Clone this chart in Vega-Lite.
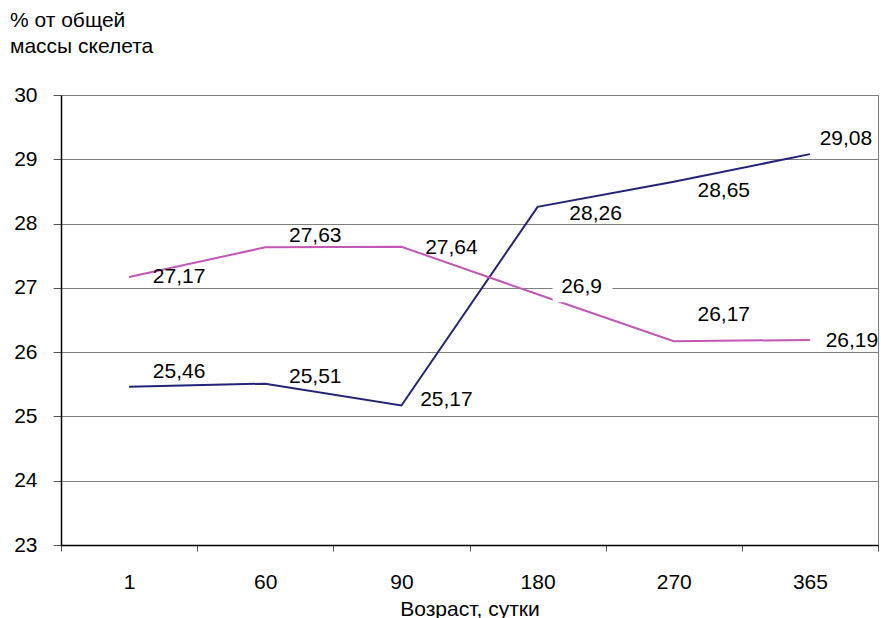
{
  "$schema": "https://vega.github.io/schema/vega-lite/v6.json",
  "autosize": "none",
  "width": 817,
  "height": 450,
  "padding": {"left": 61, "top": 95, "right": 3, "bottom": 73},
  "background": "white",
  "config": {
    "locale": {"number": {"decimal": ",", "thousands": " ", "grouping": [3], "currency": ["", ""]}},
    "font": "Liberation Sans",
    "view": {"stroke": "#808080", "strokeWidth": 1},
    "axis": {"labelFont": "Liberation Sans", "titleFont": "Liberation Sans", "labelColor": "black", "titleColor": "black", "labelFontSize": 21, "titleFontSize": 21, "titleFontWeight": "normal"}
  },
  "title": {
    "text": ["% от общей", "массы скелета"],
    "anchor": "start",
    "frame": "group",
    "dx": -51,
    "offset": 27,
    "fontSize": 21,
    "fontWeight": "normal",
    "font": "Liberation Sans",
    "lineHeight": 26,
    "color": "black"
  },
  "data": {
    "values": [
      {"age": 1, "series": "a", "value": 25.46},
      {"age": 60, "series": "a", "value": 25.51},
      {"age": 90, "series": "a", "value": 25.17},
      {"age": 180, "series": "a", "value": 28.26},
      {"age": 270, "series": "a", "value": 28.65},
      {"age": 365, "series": "a", "value": 29.08},
      {"age": 1, "series": "b", "value": 27.17},
      {"age": 60, "series": "b", "value": 27.63},
      {"age": 90, "series": "b", "value": 27.64},
      {"age": 180, "series": "b", "value": 26.9},
      {"age": 270, "series": "b", "value": 26.17},
      {"age": 365, "series": "b", "value": 26.19}
    ]
  },
  "encoding": {
    "x": {
      "field": "age",
      "type": "ordinal",
      "scale": {"type": "band", "paddingInner": 0, "paddingOuter": 0},
      "axis": {
        "title": "Возраст, сутки",
        "titlePadding": 6,
        "labelAngle": 0,
        "labelPadding": 20,
        "tickBand": "extent",
        "tickSize": 6,
        "tickColor": "#555555",
        "domainColor": "black",
        "domainWidth": 1.5,
        "grid": false
      }
    },
    "y": {
      "field": "value",
      "type": "quantitative",
      "scale": {"domain": [23, 30], "nice": false, "zero": false},
      "axis": {
        "title": null,
        "values": [23, 24, 25, 26, 27, 28, 29, 30],
        "format": "d",
        "grid": true,
        "gridColor": "#7f7f7f",
        "gridWidth": 1,
        "tickSize": 8,
        "tickColor": "#555555",
        "labelPadding": 16,
        "domainColor": "black",
        "domainWidth": 1.5
      }
    }
  },
  "layer": [
    {
      "mark": {"type": "line", "strokeWidth": 2},
      "encoding": {
        "color": {"field": "series", "type": "nominal", "scale": {"domain": ["a", "b"], "range": ["#23237a", "#c257b6"]}, "legend": null}
      }
    },
    {
      "transform": [{"filter": "datum.series == 'b' && datum.age == 180"}],
      "mark": {"type": "point", "shape": "M-1,-0.5H1V0.5H-1Z", "size": 3600, "filled": true, "fill": "white", "stroke": null, "opacity": 1, "xOffset": 45, "yOffset": -7}
    },
    {"transform": [{"filter": "datum.series == 'a' && datum.age == 1"}], "mark": {"type": "text", "fontSize": 21, "dx": 50, "dy": -15, "baseline": "middle"}, "encoding": {"text": {"field": "value", "type": "quantitative", "format": ".4~r"}}},
    {"transform": [{"filter": "datum.series == 'a' && datum.age == 60"}], "mark": {"type": "text", "fontSize": 21, "dx": 50, "dy": -7, "baseline": "middle"}, "encoding": {"text": {"field": "value", "type": "quantitative", "format": ".4~r"}}},
    {"transform": [{"filter": "datum.series == 'a' && datum.age == 90"}], "mark": {"type": "text", "fontSize": 21, "dx": 45, "dy": -6, "baseline": "middle"}, "encoding": {"text": {"field": "value", "type": "quantitative", "format": ".4~r"}}},
    {"transform": [{"filter": "datum.series == 'a' && datum.age == 180"}], "mark": {"type": "text", "fontSize": 21, "dx": 58, "dy": 7, "baseline": "middle"}, "encoding": {"text": {"field": "value", "type": "quantitative", "format": ".4~r"}}},
    {"transform": [{"filter": "datum.series == 'a' && datum.age == 270"}], "mark": {"type": "text", "fontSize": 21, "dx": 50, "dy": 9, "baseline": "middle"}, "encoding": {"text": {"field": "value", "type": "quantitative", "format": ".4~r"}}},
    {"transform": [{"filter": "datum.series == 'a' && datum.age == 365"}], "mark": {"type": "text", "fontSize": 21, "dx": 36, "dy": -15, "baseline": "middle"}, "encoding": {"text": {"field": "value", "type": "quantitative", "format": ".4~r"}}},
    {"transform": [{"filter": "datum.series == 'b' && datum.age == 1"}], "mark": {"type": "text", "fontSize": 21, "dx": 50, "dy": 0, "baseline": "middle"}, "encoding": {"text": {"field": "value", "type": "quantitative", "format": ".4~r"}}},
    {"transform": [{"filter": "datum.series == 'b' && datum.age == 60"}], "mark": {"type": "text", "fontSize": 21, "dx": 50, "dy": -11, "baseline": "middle"}, "encoding": {"text": {"field": "value", "type": "quantitative", "format": ".4~r"}}},
    {"transform": [{"filter": "datum.series == 'b' && datum.age == 90"}], "mark": {"type": "text", "fontSize": 21, "dx": 50, "dy": 1, "baseline": "middle"}, "encoding": {"text": {"field": "value", "type": "quantitative", "format": ".4~r"}}},
    {"transform": [{"filter": "datum.series == 'b' && datum.age == 180"}], "mark": {"type": "text", "fontSize": 21, "dx": 44, "dy": -7, "baseline": "middle"}, "encoding": {"text": {"field": "value", "type": "quantitative", "format": ".4~r"}}},
    {"transform": [{"filter": "datum.series == 'b' && datum.age == 270"}], "mark": {"type": "text", "fontSize": 21, "dx": 50, "dy": -26, "baseline": "middle"}, "encoding": {"text": {"field": "value", "type": "quantitative", "format": ".4~r"}}},
    {"transform": [{"filter": "datum.series == 'b' && datum.age == 365"}], "mark": {"type": "text", "fontSize": 21, "dx": 42, "dy": 1, "baseline": "middle"}, "encoding": {"text": {"field": "value", "type": "quantitative", "format": ".4~r"}}}
  ]
}
